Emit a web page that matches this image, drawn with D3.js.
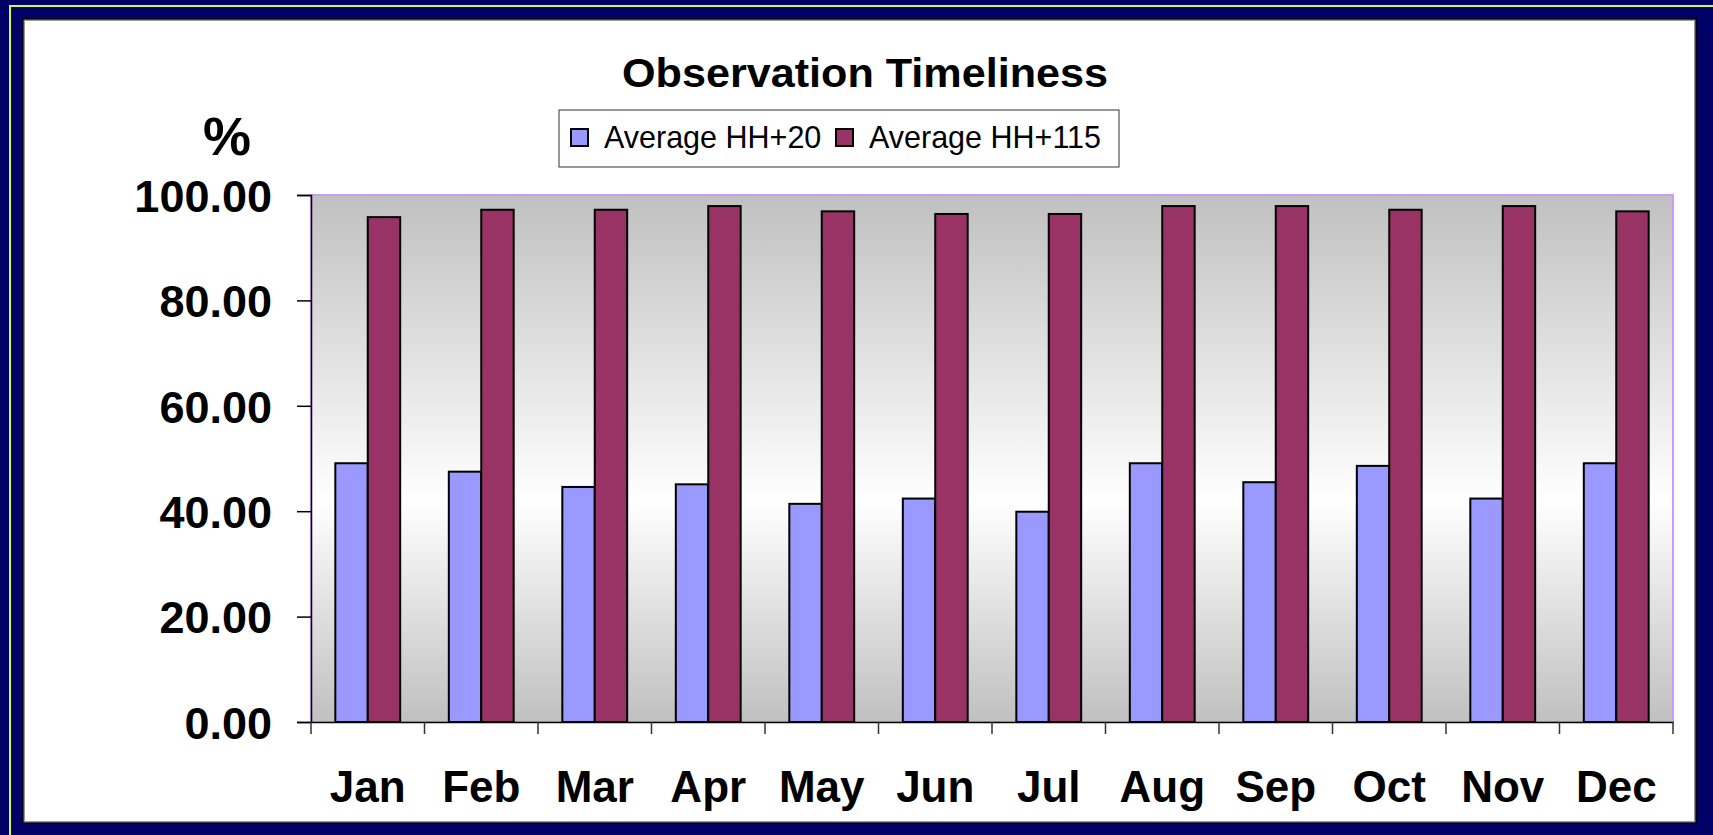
<!DOCTYPE html>
<html>
<head>
<meta charset="utf-8">
<script src="https://cdn.jsdelivr.net/npm/d3@7/dist/d3.min.js"></script>
<style>
html,body{margin:0;padding:0;background:#000066;overflow:hidden;}
svg{display:block;}
text{font-family:"Liberation Sans",Arial,Helvetica,sans-serif;}
</style>
</head>
<body>
<script>
const months = ["Jan","Feb","Mar","Apr","May","Jun","Jul","Aug","Sep","Oct","Nov","Dec"];
const seriesNames = ["Average HH+20","Average HH+115"];
const hh20  = [49.1,47.5,44.6,45.1,41.4,42.4,39.9,49.1,45.5,48.6,42.4,49.1];
const hh115 = [95.8,97.2,97.2,97.9,96.9,96.4,96.4,97.9,97.9,97.2,97.9,96.9];
const yTicks = [0,20,40,60,80,100];
const colors = ["#9999ff","#993366"];

(function(){
const W = 1713, H = 835;
const svg = d3.select("body").append("svg").attr("width", W).attr("height", H);

// outer frame
svg.append("rect").attr("width", W).attr("height", H).attr("fill", "#000066");
svg.append("rect").attr("x", 10).attr("y", 6).attr("width", W + 20).attr("height", H + 20)
  .attr("fill", "none").attr("stroke", "#ccff33").attr("stroke-width", 2);
svg.append("rect").attr("x", 23).attr("y", 19).attr("width", 1696 - 23).attr("height", 823 - 19)
  .attr("fill", "#ffffff").attr("stroke", "#000").attr("stroke-width", 1.5);
svg.append("rect").attr("x", 24.5).attr("y", 20.5).attr("width", 1696 - 26).attr("height", 823 - 22)
  .attr("fill", "none").attr("stroke", "#999").attr("stroke-width", 1);

const pLeft = 311, pRight = 1673, pTop = 195, pBottom = 722;

const x0 = d3.scaleBand().domain(months).range([pLeft, pRight]).paddingInner(0).paddingOuter(0);
const y = d3.scaleLinear().domain([0, 100]).range([pBottom, pTop]);
const bw = x0.bandwidth() / 3.5;
const x1 = d3.scaleBand().domain(seriesNames).range([0.75 * bw, 2.75 * bw]);

// gradient background
const defs = svg.append("defs");
const grad = defs.append("linearGradient").attr("id", "bg").attr("x1", 0).attr("y1", 0).attr("x2", 0).attr("y2", 1);
grad.append("stop").attr("offset", "0%").attr("stop-color", "#c0c0c0");
grad.append("stop").attr("offset", "58%").attr("stop-color", "#ffffff");
grad.append("stop").attr("offset", "100%").attr("stop-color", "#c0c0c0");

svg.append("rect").attr("x", pLeft).attr("y", pTop).attr("width", pRight - pLeft).attr("height", pBottom - pTop)
  .attr("fill", "url(#bg)").attr("stroke", "#cc99ff").attr("stroke-width", 2);

// bars
const data = months.map((m, i) => ({m, vals: [hh20[i], hh115[i]]}));
const groups = svg.append("g").selectAll("g").data(data).join("g")
  .attr("transform", d => `translate(${x0(d.m)},0)`);
groups.selectAll("rect").data(d => d.vals.map((v, j) => ({v, s: seriesNames[j], j})))
  .join("rect")
  .attr("x", d => x1(d.s))
  .attr("width", x1.bandwidth())
  .attr("y", d => y(d.v))
  .attr("height", d => y(0) - y(d.v))
  .attr("fill", d => colors[d.j])
  .attr("stroke", "#000").attr("stroke-width", 2);

// y axis
const yAxis = d3.axisLeft(y).tickValues(yTicks).tickSize(14).tickPadding(25).tickFormat(d3.format(".2f"));
const yg = svg.append("g").attr("transform", `translate(${pLeft},0)`).call(yAxis);
yg.select(".domain").attr("stroke", "#000").attr("stroke-width", 1.5);
yg.selectAll(".tick line").attr("stroke", "#000").attr("stroke-width", 1.5);
yg.selectAll(".tick text").attr("font-size", 45).attr("font-weight", "bold").attr("fill", "#000")
  .attr("font-family", "'Liberation Sans',Arial,sans-serif").attr("dy", "0.36em").attr("x", -39);

// x axis
const xAxis = d3.axisBottom(x0).tickSize(0).tickPadding(0);
const xg = svg.append("g").attr("transform", `translate(0,${pBottom})`).call(xAxis);
xg.select(".domain").attr("stroke", "#000").attr("stroke-width", 1.5);
xg.selectAll(".tick text").attr("font-size", 44).attr("font-weight", "bold").attr("fill", "#000")
  .attr("font-family", "'Liberation Sans',Arial,sans-serif").attr("y", 80).attr("dy", 0);
// boundary ticks
const bounds = months.map(m => x0(m)).concat([pRight]);
svg.append("g").selectAll("line").data(bounds).join("line")
  .attr("x1", d => d).attr("x2", d => d).attr("y1", pBottom).attr("y2", pBottom + 12)
  .attr("stroke", "#333").attr("stroke-width", 1.5);

// title
svg.append("text").attr("x", 865).attr("y", 87).attr("text-anchor", "middle")
  .attr("font-size", 40).attr("font-weight", "bold").attr("textLength", 486).attr("lengthAdjust", "spacingAndGlyphs")
  .text("Observation Timeliness");

// %
svg.append("text").attr("x", 227).attr("y", 155).attr("text-anchor", "middle")
  .attr("font-size", 54).attr("font-weight", "bold").text("%");

// legend
svg.append("rect").attr("x", 559).attr("y", 110).attr("width", 560).attr("height", 57)
  .attr("fill", "#fff").attr("stroke", "#333").attr("stroke-width", 1);
const legX = [571, 836];
const lg = svg.append("g").selectAll("g").data(seriesNames).join("g")
  .attr("transform", (d, i) => `translate(${legX[i]},129)`);
lg.append("rect").attr("width", 17).attr("height", 17).attr("fill", (d, i) => colors[i])
  .attr("stroke", "#000").attr("stroke-width", 2);
lg.append("text").attr("x", 33).attr("y", 19).attr("font-size", 30.5).text(d => d);
})();
</script>
</body>
</html>
